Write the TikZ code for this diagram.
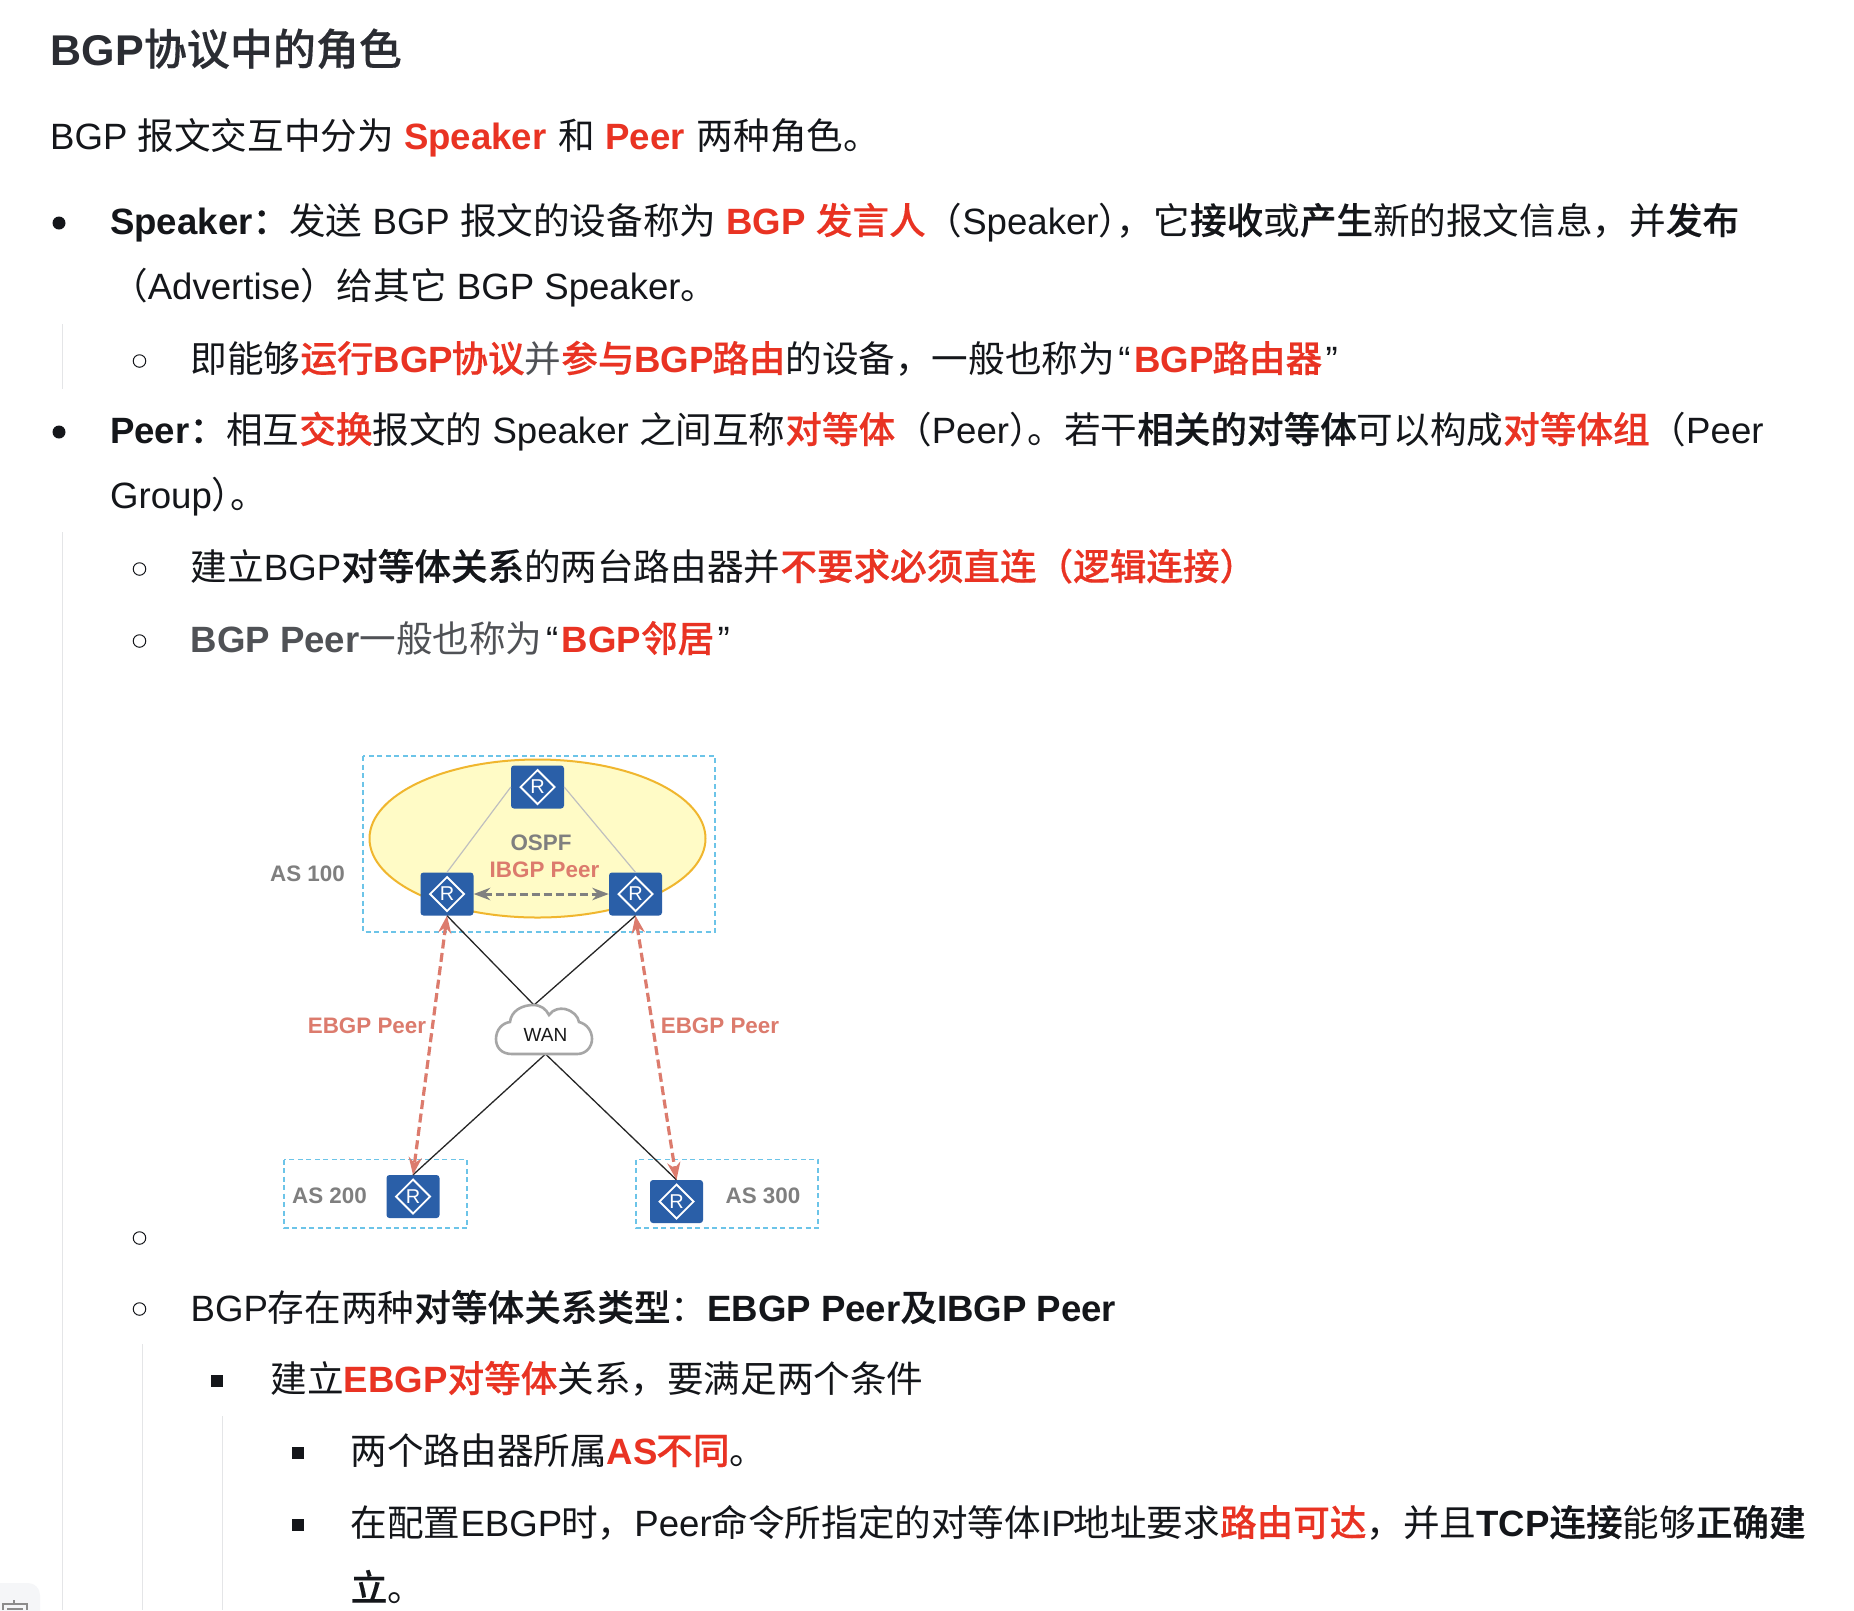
\documentclass[tikz,border=0pt]{standalone}
\usepackage{fontspec}
\setmainfont{Liberation Sans}
\newfontfamily\zhfont[BoldFont={Noto Sans CJK SC Medium},BoldFeatures={FakeBold=0.35}]{Noto Sans CJK SC}
\usepackage{xcolor}
\usetikzlibrary{
    arrows.meta,
    shapes.geometric
}
\definecolor{bodyink}{HTML}{14161A}
\definecolor{headink}{HTML}{2B2D33}
\definecolor{softink}{HTML}{505256}
\definecolor{hotred}{HTML}{E93323}
\definecolor{guidegray}{HTML}{E4E5E7}
\definecolor{asgray}{HTML}{7F7F7F}
\definecolor{peerred}{HTML}{DC7B6D}
\definecolor{routerblue}{HTML}{2A5FA8}
\definecolor{boxblue}{HTML}{6CC4E8}
\definecolor{ospfline}{HTML}{F0B62E}
\definecolor{ospffill}{HTML}{FFFBC6}
\definecolor{tabgray}{HTML}{F5F6F8}
\newcommand{\zh}[1]{{\zhfont #1}}
\newcommand{\bd}[1]{{\bfseries #1}}
\newcommand{\rd}[1]{{\bfseries\color{hotred}#1}}
\newcommand{\oq}{\hspace{3.5pt}{\mdseries\color{bodyink}“}\hspace{3.5pt}}
\newcommand{\cq}{\hspace{3.5pt}{\mdseries\color{bodyink}”}}
\newcommand{\tuck}{\hspace{-0.5em}}
\begin{document}
\begin{tikzpicture}[
        x=1pt,
        y=-1pt,
        >=Stealth,
        body/.style={
            anchor=base west,
            inner sep=0pt,
            text=bodyink,
            font=\fontsize{36.6}{40}\selectfont
        },
        title/.style={
            body,
            text=headink,
            font=\fontsize{43}{46}\selectfont\bfseries
        },
        guide/.style={guidegray, line width=1pt},
        dot/.style={circle, fill=bodyink, inner sep=0pt, minimum size=13pt},
        ring/.style={circle, draw=bodyink, line width=1pt, inner sep=0pt, minimum size=12.5pt},
        square/.style={rectangle, fill=bodyink, inner sep=0pt, minimum size=12pt},
        asbox/.style={draw=boxblue, dash pattern=on 5pt off 3.5pt, line width=1.2pt},
        aslabel/.style={text=asgray, inner sep=0pt, font=\fontsize{22.4}{24}\selectfont\bfseries},
        peerlabel/.style={text=peerred, inner sep=0pt, font=\fontsize{22.4}{24}\selectfont\bfseries},
        router/.style={
            rectangle,
            rounded corners=3pt,
            fill=routerblue,
            text=white,
            inner sep=0pt,
            minimum width=53pt,
            minimum height=43pt,
            font=\fontsize{20}{22}\selectfont,
            path picture={
                \draw[white, line width=1.8pt, sharp corners]
                    (path picture bounding box.center) ++(17,0) -- ++(-17,17)
                    -- ++(-17,-17) -- ++(17,-17) -- cycle;
            }
        },
        ospflink/.style={draw=black!25, line width=1.2pt},
        wanlink/.style={draw=black!85, line width=1.3pt},
        ibgp/.style={<->, draw=black!50, dash pattern=on 8pt off 4pt, line width=3pt},
        ebgp/.style={<->, draw=peerred, dash pattern=on 9pt off 4.5pt, line width=3.2pt}
    ]
    \useasboundingbox (0,0) rectangle (1854,1610);
    \fill[white] (0,0) rectangle (1854,1610);

    % guides
    \draw[guide] (62,324) -- (62,389);
    \draw[guide] (62,532) -- (62,1610);
    \draw[guide] (142,1344) -- (142,1610);
    \draw[guide] (222,1416) -- (222,1610);

    % text
    \node[title] (head) at (50.5,65) {BGP\zh{协议中的角色}};
    \node[body] (intro) at (50,149) {BGP \zh{报文交互中分为} \rd{Speaker}\hspace{2pt} \zh{和} \rd{Peer}\hspace{2pt} \zh{两种角色。}};

    \node[dot] (b1) at (59,223) {};
    \node[body] (spk) at (110,234) {\bd{Speaker\zh{：}}\zh{发送} BGP \zh{报文的设备称为} \rd{BGP \zh{发言人}}\zh{（}Speaker\zh{）\tuck，它}\bd{\zh{接收}}\zh{或}\bd{\zh{产生}}\zh{新的报文信息，并}\bd{\zh{发布}}};
    \node[body] (spktwo) at (111,299) {\zh{（}Advertise\zh{）给其它} BGP Speaker\zh{。}};
    \node[ring] (c1) at (139.5,361) {};
    \node[body] (spksub) at (190.5,372) {\zh{即能够}\rd{\zh{运行}BGP\hspace{-1.5pt}\zh{协议}}{\color{softink}\zh{并}}\rd{\zh{参与}BGP\hspace{-1.5pt}\zh{路由}}\zh{的设备，一般也称为}\oq\rd{BGP\hspace{-1pt}\zh{路由器}}\cq};

    \node[dot] (b2) at (59,432) {};
    \node[body] (peer) at (110,443) {\bd{Peer\zh{：}}\zh{相互}\rd{\zh{交换}}\zh{报文的} Speaker \zh{之间互称}\rd{\zh{对等体}}\zh{（}Peer\zh{）\tuck。若干}\bd{\zh{相关的对等体}}\zh{可以构成}\rd{\zh{对等体组}}\zh{（}Peer};
    \node[body] (peertwo) at (110,508) {Group\zh{）\tuck。}};
    \node[ring] (c2) at (139.5,569) {};
    \node[body] (peersuba) at (190.5,580) {\zh{建立}BGP\bd{\zh{对等体关系}}\zh{的两台路由器并}\rd{\zh{不要求必须直连（逻辑连接）}}};
    \node[ring] (c3) at (139.5,641) {};
    \node[body, text=softink] (peersubb) at (190.5,652) {\bd{BGP Peer}\zh{一般也称为}\oq\rd{BGP\zh{邻居}}\cq};
    \node[ring] (c4) at (139.5,1238) {};

    \node[ring] (c5) at (139.5,1309) {};
    \node[body] (types) at (190.5,1321) {BGP\zh{存在两种}\bd{\zh{对等体关系类型}}\zh{：}\bd{EBGP Peer\zh{及}IBGP Peer}};
    \node[square] (s1) at (217,1381) {};
    \node[body] (cond) at (270.5,1392) {\zh{建立}\rd{EBGP\zh{对等体}}\zh{关系，要满足两个条件}};
    \node[square] (s2) at (298,1453) {};
    \node[body] (conda) at (350.5,1464) {\zh{两个路由器所属}\rd{AS\hspace{-1.5pt}\zh{不同}}\zh{。}};
    \node[square] (s3) at (298,1525) {};
    \node[body] (condb) at (350.5,1536) {\zh{在配置}EBGP\hspace{-1pt}\zh{时，}Peer\zh{命令所指定的对等体}IP\hspace{-2pt}\zh{地址要求}\rd{\zh{路由可达}}\zh{，并且}\bd{TCP\zh{连接}}\zh{能够}\bd{\zh{正确建}}};
    \node[body] (condc) at (350.5,1601) {\bd{\zh{立}}\zh{。}};

    % AS 100
    \draw[asbox] (363,756) rectangle (715,932);
    \node[ellipse, draw=ospfline, fill=ospffill, line width=2pt, inner sep=0pt,
        minimum width=336pt, minimum height=158pt] (ospfarea) at (537.5,838.5) {};
    \node[router] (rtop) at (537.5,787) {R};
    \node[router] (rleft) at (447,894) {R};
    \node[router] (rright) at (635.5,894) {R};
    \node[aslabel] (as100) at (307.5,874) {AS 100};
    \node[aslabel] (ospf) at (541,843) {OSPF};
    \node[peerlabel] (ibgplabel) at (544.5,870) {IBGP Peer};
    \draw[ospflink] (rtop.west) -- (rleft.north);
    \draw[ospflink] (rtop.east) -- (rright.north);
    \draw[ibgp] (rleft.east) -- (rright.west);

    % AS 200, AS 300
    \draw[asbox] (284,1159.5) rectangle (467,1228);
    \draw[asbox] (636,1159.5) rectangle (818,1228);
    \node[router] (rtwo) at (413,1196.5) {R};
    \node[router] (rthree) at (676.5,1201.5) {R};
    \node[aslabel] (as200) at (329.5,1196) {AS 200};
    \node[aslabel] (as300) at (763,1196) {AS 300};

    % WAN
    \coordinate (wantop) at (534,1005);
    \coordinate (wanbot) at (545.5,1054);
    \draw[wanlink] (rleft.south) -- (wantop);
    \draw[wanlink] (rright.south) -- (wantop);
    \draw[wanlink] (wanbot) -- (rtwo.north);
    \draw[wanlink] (wanbot) -- (rthree.north);
    \draw[draw=black!35, fill=white, line width=2.6pt]
        (512,1054) .. controls (501,1054) and (496,1047) .. (496,1039)
        .. controls (496,1030) and (502,1023) .. (510,1022)
        .. controls (511,1011) and (522,1005) .. (533,1005)
        .. controls (541,1005) and (546,1009) .. (549,1015)
        .. controls (553,1009) and (560,1008) .. (565,1009)
        .. controls (573,1011) and (578,1016) .. (579,1022)
        .. controls (587,1024) and (592,1031) .. (592,1039)
        .. controls (592,1047) and (586,1054) .. (577,1054)
        -- cycle;
    \node[inner sep=0pt, text=black!90, font=\fontsize{19}{21}\selectfont] (wan) at (545.5,1035) {WAN};

    % peers
    \draw[ebgp] (rleft.south) -- (rtwo.north);
    \draw[ebgp] (rright.south) -- (rthree.north);
    \node[peerlabel] (ebgpl) at (367,1026) {EBGP Peer};
    \node[peerlabel] (ebgpr) at (720,1026) {EBGP Peer};

    % corner tab
    \fill[tabgray, rounded corners=12pt] (-20,1583) rectangle (40,1640);
    \draw[black!45, line width=2pt] (3,1610) -- (3,1604) -- (27,1604) -- (27,1610);
    \draw[black!45, line width=2pt] (14,1600) -- (14,1604);
    \fill[black!45] (7,1608) rectangle (23,1610);
\end{tikzpicture}
\end{document}
